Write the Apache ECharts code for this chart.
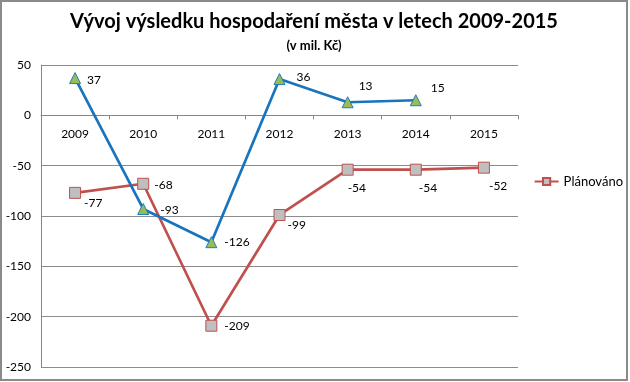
<!DOCTYPE html>
<html><head><meta charset="utf-8">
<script src="https://cdn.jsdelivr.net/npm/echarts@6/dist/echarts.min.js"></script>
<style>html,body{margin:0;padding:0;background:#fff}#c{width:628px;height:381px;box-sizing:border-box;border:2px solid #8a8a8a}</style>
</head><body><div id="c"></div>
<script>
const years = ['2009','2010','2011','2012','2013','2014','2015'];
const actual = [37, -93, -126, 36, 13, 15, null];
const planned = [-77, -68, -209, -99, -54, -54, -52];
const yMin = -250, yMax = 50, yStep = 50;

const actualLabelOffsets = [[1,2],[6,1],[2,0],[6,-2],[0,-16],[4,-12],[0,0]];
const plannedLabelOffsets = [[-2,10],[0,1],[2,0],[-3,10],[-11,18],[-8,18],[-6,18]];

const el = document.getElementById('c');
const chart = echarts.init(el);
const font = 'Lato, "Open Sans", sans-serif';
const gridTop = 63, gridBottom = 12;
const gridH = el.clientHeight - gridTop - gridBottom;
const zeroOffset = -gridH * (0 - yMin) / (yMax - yMin);
chart.setOption({
  animation:false,
  title:{text:'Vývoj výsledku hospodaření města v letech 2009-2015', subtext:'(v mil. Kč)', left:'center', top:5,
    textStyle:{fontFamily:font,fontSize:20,fontWeight:'bold',color:'#000'},
    subtextStyle:{fontFamily:font,fontSize:13,fontWeight:'bold',color:'#000'}, itemGap:7},
  legend:{data:['Plánováno'], right:3, top:173, padding:0, orient:'vertical', itemWidth:24, itemHeight:9, itemGap:4,
    textStyle:{fontFamily:font,fontSize:13,color:'#000'}},
  grid:{left:39, right:108, top:gridTop, bottom:gridBottom, outerBoundsMode:'none', containLabel:false},
  xAxis:{type:'category', data:years, boundaryGap:true, offset:zeroOffset,
    axisLine:{onZero:false,lineStyle:{color:'#868686'}},
    axisTick:{show:true,length:4,lineStyle:{color:'#868686'}},
    axisLabel:{fontFamily:font,fontSize:12,color:'#000',margin:13}},
  yAxis:{type:'value', min:yMin, max:yMax, interval:yStep,
    axisLine:{show:true,lineStyle:{color:'#868686'}},
    axisTick:{show:false},
    splitLine:{lineStyle:{color:'#8c8c8c'}},
    axisLabel:{fontFamily:font,fontSize:12,color:'#000',margin:10}},
  series:[
    {name:'Skutečnost', type:'line', data:actual.map((v,i)=>({value:v,label:{offset:actualLabelOffsets[i]}})),
      symbol:'triangle', symbolSize:11, z:3,
      lineStyle:{color:'#1874bc',width:2.7},
      itemStyle:{color:'#9bbb59',borderColor:'#1a7fb8',borderWidth:1},
      label:{show:true,position:'right',fontFamily:font,fontSize:12,color:'#000'}},
    {name:'Plánováno', type:'line', data:planned.map((v,i)=>({value:v,label:{offset:plannedLabelOffsets[i]}})),
      symbol:'rect', symbolSize:11, z:2,
      lineStyle:{color:'#c0504d',width:2.7},
      itemStyle:{color:'#bfbfbf',borderColor:'#c0504d',borderWidth:1},
      label:{show:true,position:'right',fontFamily:font,fontSize:12,color:'#000'}}
  ]
});
</script></body></html>
